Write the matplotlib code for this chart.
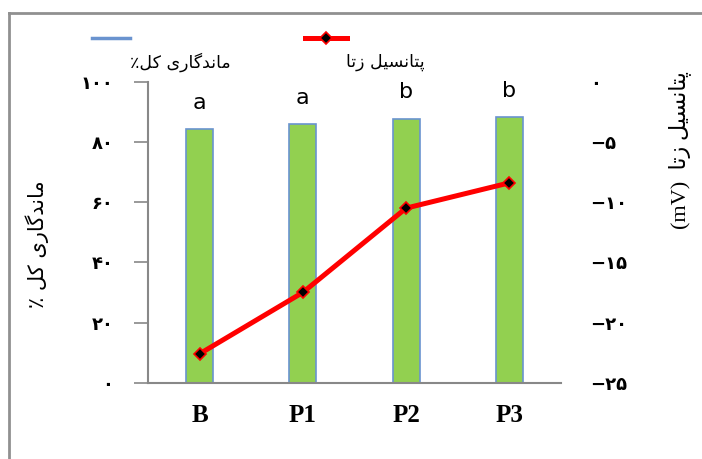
import matplotlib
matplotlib.use("Agg")
import matplotlib.pyplot as plt
from matplotlib.lines import Line2D

treatments = ["B", "P1", "P2", "P3"]
retention = [84.2, 85.9, 87.7, 88.2]      # total retention (%)
zeta = [-22.6, -17.5, -10.5, -8.4]        # zeta potential (mV)
groups = ["a", "a", "b", "b"]

retention_ticks = [0, 20, 40, 60, 80, 100]
zeta_ticks = [-25, -20, -15, -10, -5, 0]

# presentation forms: isolated, final, initial, medial
FORMS = {
    "ا": ("\uFE8D", "\uFE8E", None, None),
    "د": ("\uFEA9", "\uFEAA", None, None),
    "ر": ("\uFEAD", "\uFEAE", None, None),
    "ز": ("\uFEAF", "\uFEB0", None, None),
    "م": ("\uFEE1", "\uFEE2", "\uFEE3", "\uFEE4"),
    "ن": ("\uFEE5", "\uFEE6", "\uFEE7", "\uFEE8"),
    "ل": ("\uFEDD", "\uFEDE", "\uFEDF", "\uFEE0"),
    "ت": ("\uFE95", "\uFE96", "\uFE97", "\uFE98"),
    "س": ("\uFEB1", "\uFEB2", "\uFEB3", "\uFEB4"),
    "پ": ("\uFB56", "\uFB57", "\uFB58", "\uFB59"),
    "گ": ("\uFB92", "\uFB93", "\uFB94", "\uFB95"),
    "ک": ("\uFB8E", "\uFB8F", "\uFB90", "\uFB91"),
    "ی": ("\uFBFC", "\uFBFD", "\uFBFE", "\uFBFF"),
}


def shape(text):
    # join the letters by hand and flip to visual order, since agg does no shaping
    out = []
    for i, ch in enumerate(text):
        if ch not in FORMS:
            out.append(ch)
            continue
        iso, fin, ini, med = FORMS[ch]
        prev = text[i - 1] if i > 0 else ""
        nxt = text[i + 1] if i + 1 < len(text) else ""
        jp = prev in FORMS and FORMS[prev][2] is not None
        jn = ini is not None and nxt in FORMS
        if jp and jn:
            out.append(med)
        elif jp:
            out.append(fin)
        elif jn:
            out.append(ini)
        else:
            out.append(iso)
    return "".join(reversed(out))


def fa_num(v):
    s = str(abs(v)).translate(str.maketrans("0123456789", "۰۱۲۳۴۵۶۷۸۹"))
    return ("\u2212" + s) if v < 0 else s


W, H = 702, 459
fig = plt.figure(figsize=(W / 100, H / 100), dpi=100)
ax = fig.add_axes([148 / W, 1 - 382.7 / H, (561 - 148) / W, (382.7 - 81.7) / H])

x = list(range(len(treatments)))
ax.bar(x, retention, width=0.26, color="#92D050", edgecolor="#6A93CF", linewidth=1.2, zorder=2)
for xi, v, g in zip(x, retention, groups):
    ax.annotate(g, (xi, v), xytext=(0, 19), textcoords="offset points",
                ha="center", va="center", fontsize=16)

ax.set_xlim(-0.5, 3.5)
ax.set_ylim(0, 100)
ax.set_xticks(x)
ax.set_xticklabels(treatments, fontfamily="Liberation Serif", fontweight="bold", fontsize=18)
ax.set_yticks(retention_ticks)
ax.set_yticklabels([fa_num(t) for t in retention_ticks], fontsize=13, fontweight="bold")
ax.tick_params(axis="x", length=0, pad=15)
ax.tick_params(axis="y", direction="out", length=10, width=1.2, color="#888888", pad=15)
for s in ["top", "right"]:
    ax.spines[s].set_visible(False)
for s in ["left", "bottom"]:
    ax.spines[s].set_color("#888888")
    ax.spines[s].set_linewidth(1.5)

ax2 = ax.twinx()
ax2.plot(x, zeta, color="#FF0000", lw=3.6, marker="D", ms=6.5,
         mfc="black", mec="#FF0000", mew=1.2, zorder=3)
ax2.set_ylim(-25, 0)
ax2.set_yticks(zeta_ticks)
ax2.set_yticklabels([fa_num(t) for t in zeta_ticks], fontsize=13, fontweight="bold")
ax2.tick_params(axis="y", length=0, pad=21)
for s in ax2.spines.values():
    s.set_visible(False)

# axis titles
fig.text(37 / W, 1 - 244 / H, shape("ماندگاری کل ٪"), rotation=90,
         ha="center", va="center", fontsize=15)
fig.text(680 / W, 1 - 150 / H, "(mV)  " + shape("پتانسیل زتا"), rotation=90,
         ha="center", va="center", fontsize=16, family=["Liberation Serif", "DejaVu Sans"])

# legend drawn by hand
fig.add_artist(Line2D([92 / W, 130 / W], [1 - 38 / H] * 2, color="#6A93CF", lw=2.5,
                      transform=fig.transFigure))
fig.text(180 / W, 1 - 62 / H, shape("ماندگاری کل٪"), ha="center", va="center", fontsize=12.5)
fig.add_artist(Line2D([305 / W, 347 / W], [1 - 38 / H] * 2, color="#FF0000", lw=3.6,
                      transform=fig.transFigure))
fig.add_artist(Line2D([326 / W], [1 - 38 / H], marker="D", ms=6.5, mfc="black",
                      mec="#FF0000", mew=1.2, lw=0, transform=fig.transFigure))
fig.text(385 / W, 1 - 62 / H, shape("پتانسیل زتا"), ha="center", va="center", fontsize=12.5)

# chart-area border
fig.add_artist(Line2D([9 / W, 9 / W], [0, 1 - 12.7 / H], color="#909090", lw=2,
                      transform=fig.transFigure))
fig.add_artist(Line2D([9 / W, 1], [1 - 12.7 / H] * 2, color="#909090", lw=2,
                      transform=fig.transFigure))

fig.savefig("out.png", dpi=100)
